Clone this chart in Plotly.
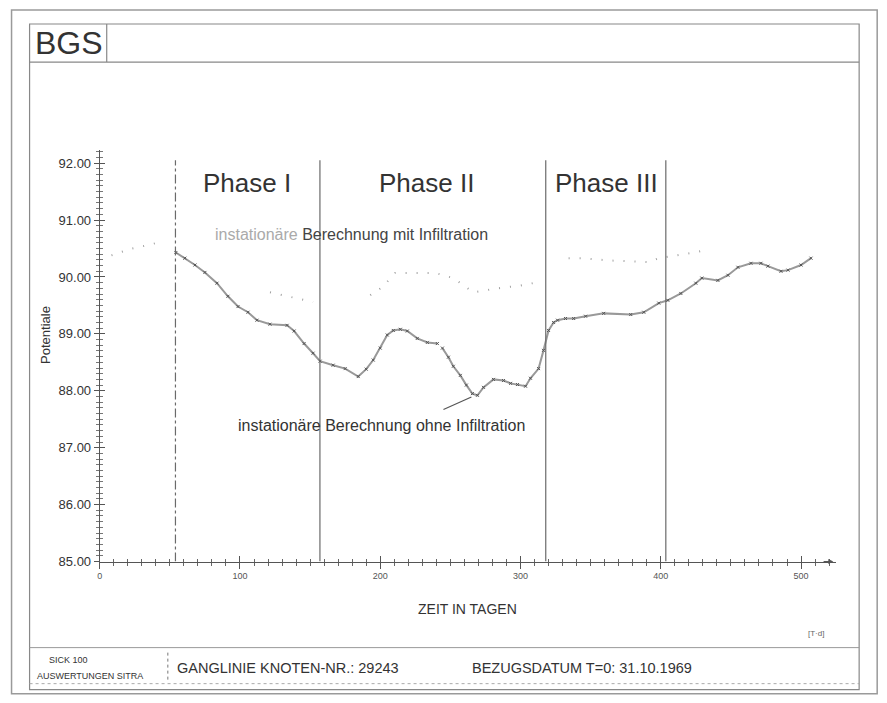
import plotly.graph_objects as go

# ---------------- data ----------------
days_ohne = [54.3, 60.7, 67.9, 75.0, 83.6, 91.4, 98.6, 105.7, 112.1, 121.4, 133.6, 138.6,
             145.7, 152.1, 157.1, 166.4, 175.0, 184.3, 190.0, 195.0, 200.0, 205.0, 209.3,
             214.3, 219.3, 226.4, 233.6, 240.7, None, 244.3, 248.6, 252.1, 257.1, 261.4,
             265.7, 269.3, 273.6, 280.7, 287.9, 292.9, 297.9, 303.6, 307.1, 312.9, 316.4,
             320.0, 323.6, 326.4, 332.1, 337.9, 346.4, 359.3, 378.6, 387.9, 398.6, 405.0,
             414.3, 425.0, 429.3, 440.7, 447.9, 455.0, 464.3, 471.4, 476.4, 485.7, 490.7,
             500.0, 507.1]
pot_ohne = [90.43, 90.33, 90.21, 90.08, 89.89, 89.66, 89.48, 89.38, 89.24, 89.17, 89.15, 89.05,
            88.83, 88.66, 88.52, 88.45, 88.39, 88.25, 88.38, 88.54, 88.75, 88.98, 89.06,
            89.08, 89.05, 88.92, 88.85, 88.83, None, 88.75, 88.59, 88.43, 88.27, 88.10,
            87.95, 87.92, 88.06, 88.20, 88.18, 88.13, 88.11, 88.08, 88.22, 88.39, 88.71,
            89.06, 89.20, 89.24, 89.27, 89.27, 89.31, 89.36, 89.34, 89.38, 89.54, 89.59,
            89.71, 89.89, 89.98, 89.94, 90.03, 90.17, 90.24, 90.24, 90.19, 90.10, 90.12,
            90.21, 90.33]

days_mit = [8.4, 21.4, 34.3, 39.3, None,
            121.4, 152.1, None, 192.9, 201.4, 210.7, 239.3, 252.1, 266.4, 283.6, 300.0, 312.9,
            None, 334.3, 342.9, 362.9, 391.4, 398.6, 412.9, 424.3, 431.4]
pot_mit = [90.38, 90.49, 90.56, 90.59, None,
           89.73, 89.56, None, 89.68, 89.82, 90.07, 90.07, 89.98, 89.73, 89.80, 89.85, 89.91,
           None, 90.33, 90.33, 90.29, 90.26, 90.33, 90.38, 90.43, 90.47]

phase_bounds = [54.0, 157.0, 318.0, 403.6]
phase_labels = ["Phase I", "Phase II", "Phase III"]
phase_label_days = [105.0, 233.0, 361.0]

x_ticks = [0, 100, 200, 300, 400, 500]
x_tick_labels = ["0", "100", "200", "300", "400", "500"]
y_ticks = [85, 86, 87, 88, 89, 90, 91, 92]

# ---------------- geometry helpers (paper coords; page body has an 8px margin) ----------------
OFF = 8
W, H = 887 - OFF, 703 - OFF
def px(x):
    xi = (x - 3.5) / 0.9947
    return (xi - OFF) / W
def py(y):
    yi = 10 + (y - 10) / 0.9875
    return 1 - (yi - OFF) / H

FONT = "Liberation Sans, Arial, Helvetica, sans-serif"
TXT = "#333333"

fig = go.Figure()

fig.add_trace(go.Scatter(
    x=days_mit, y=pot_mit, mode="lines",
    line=dict(color="#a0a0a0", width=2, dash="1px,10px"),
    connectgaps=False, hoverinfo="skip", showlegend=False, xaxis="x", yaxis="y"))

fig.add_trace(go.Scatter(
    x=days_ohne, y=pot_ohne, mode="lines+markers",
    line=dict(color="#999999", width=2),
    marker=dict(size=3, color="#555555", symbol="x-thin", line=dict(width=1, color="#555555")),
    connectgaps=False, showlegend=False, xaxis="x", yaxis="y"))

xdom = [px(100), px(835)]
ydom = [py(561), py(150)]
xr = [0, 525]
yr = [85, 92.2286]

common_x = dict(domain=xdom, range=xr, showgrid=False, zeroline=False, showline=True,
                linecolor="#555", linewidth=1, tickmode="array", tickvals=x_ticks,
                tickcolor="#555", ticklen=6, tickwidth=1)
common_y = dict(domain=ydom, range=yr, showgrid=False, zeroline=False, showline=True,
                linecolor="#555", linewidth=1, tickmode="array", tickvals=y_ticks,
                tickcolor="#555", ticklen=5, tickwidth=1)

fig.update_layout(
    width=W, height=H, margin=dict(l=0, r=0, t=0, b=0),
    paper_bgcolor="white", plot_bgcolor="white",
    font=dict(family=FONT, color=TXT),
    xaxis=dict(**common_x, ticks="outside", ticktext=x_tick_labels,
               tickfont=dict(size=9, color="#555"), anchor="y",
               minor=dict(dtick=10, tick0=0, ticklen=3, tickcolor="#666", tickwidth=1, ticks="outside")),
    xaxis2=dict(**common_x, ticks="inside", showticklabels=False, overlaying="x", anchor="y",
                minor=dict(dtick=10, tick0=0, ticklen=3, tickcolor="#666", tickwidth=1, ticks="inside")),
    yaxis=dict(**common_y, ticks="outside", tickformat=".2f",
               tickfont=dict(size=13, color=TXT), anchor="x",
               minor=dict(dtick=0.1, tick0=85, ticklen=3, tickcolor="#777", tickwidth=1, ticks="outside")),
    yaxis2=dict(**common_y, ticks="inside", showticklabels=False, overlaying="y", anchor="x",
                minor=dict(dtick=0.1, tick0=85, ticklen=3, tickcolor="#777", tickwidth=1, ticks="inside")),
)
fig.add_trace(go.Scatter(x=[None], y=[None], xaxis="x2", yaxis="y2", showlegend=False))

shapes = []
# outer and inner frames
shapes.append(dict(type="rect", xref="paper", yref="paper", x0=px(12), x1=px(876), y0=py(693), y1=py(10),
                   line=dict(color="#9a9a9a", width=1.5)))
shapes.append(dict(type="rect", xref="paper", yref="paper", x0=px(30), x1=px(858), y0=py(689), y1=py(24),
                   line=dict(color="#888", width=1.2)))
# header
shapes.append(dict(type="line", xref="paper", yref="paper", x0=px(30), x1=px(858), y0=py(62), y1=py(62),
                   line=dict(color="#888", width=1.2)))
shapes.append(dict(type="line", xref="paper", yref="paper", x0=px(107), x1=px(107), y0=py(24), y1=py(62),
                   line=dict(color="#888", width=1.2)))
# footer
shapes.append(dict(type="line", xref="paper", yref="paper", x0=px(30), x1=px(858), y0=py(647), y1=py(647),
                   line=dict(color="#999", width=1)))
shapes.append(dict(type="line", xref="paper", yref="paper", x0=px(30), x1=px(858), y0=py(683), y1=py(683),
                   line=dict(color="#aaa", width=1, dash="dot")))
shapes.append(dict(type="line", xref="paper", yref="paper", x0=px(168), x1=px(168), y0=py(652), y1=py(682),
                   line=dict(color="#777", width=1, dash="dot")))
# phase boundaries
for i, d in enumerate(phase_bounds):
    shapes.append(dict(type="line", xref="x", yref="y", x0=d, x1=d, y0=85, y1=92.05,
                       line=dict(color="#6a6a6a", width=1.2, dash="dashdot" if i == 0 else "solid")))
fig.update_layout(shapes=shapes)

ann = []
ann.append(dict(text="BGS", xref="paper", yref="paper", x=px(69), y=py(43), showarrow=False,
                font=dict(size=32, color="#333"), xanchor="center", yanchor="middle"))
for lab, d in zip(phase_labels, phase_label_days):
    ann.append(dict(text=lab, xref="x", yref="paper", x=d, y=py(183), showarrow=False,
                    font=dict(size=26, color="#333"), xanchor="center", yanchor="middle"))
ann.append(dict(text="<span style='color:#aaaaaa'>instationäre</span> Berechnung mit Infiltration",
                xref="paper", yref="paper", x=px(213), y=py(234), showarrow=False,
                font=dict(size=16, color="#444"), xanchor="left", yanchor="middle"))
ann.append(dict(text="instationäre Berechnung ohne Infiltration",
                xref="paper", yref="paper", x=px(236), y=py(425), showarrow=False,
                font=dict(size=16, color="#333"), xanchor="left", yanchor="middle"))
# leader line
ann.append(dict(text="", x=265.0, y=87.89, xref="x", yref="y", ax=244.0, ay=87.66,
                axref="x", ayref="y", showarrow=True, arrowhead=0, arrowwidth=1.2, arrowcolor="#555"))
# x-axis arrow
ann.append(dict(text="", x=523, y=85, xref="x", yref="y", ax=515, ay=85,
                axref="x", ayref="y", showarrow=True, arrowhead=2, arrowsize=1, arrowwidth=1, arrowcolor="#555"))
ann.append(dict(text="Potentiale", xref="paper", yref="paper", x=px(46), y=py(335), showarrow=False,
                textangle=-90, font=dict(size=13, color="#333"), xanchor="center", yanchor="middle"))
ann.append(dict(text="ZEIT IN TAGEN", xref="paper", yref="paper", x=px(467), y=py(608), showarrow=False,
                font=dict(size=14, color="#333"), xanchor="center", yanchor="middle"))
ann.append(dict(text="[T·d]", xref="paper", yref="paper", x=px(815), y=py(633), showarrow=False,
                font=dict(size=8, color="#666"), xanchor="center", yanchor="middle"))
ann.append(dict(text="SICK 100", xref="paper", yref="paper", x=px(47), y=py(659), showarrow=False,
                font=dict(size=9, color="#333"), xanchor="left", yanchor="middle"))
ann.append(dict(text="AUSWERTUNGEN SITRA", xref="paper", yref="paper", x=px(35), y=py(675), showarrow=False,
                font=dict(size=9, color="#333"), xanchor="left", yanchor="middle"))
ann.append(dict(text="GANGLINIE KNOTEN-NR.: 29243", xref="paper", yref="paper", x=px(175), y=py(667),
                showarrow=False, font=dict(size=14.5, color="#333"), xanchor="left", yanchor="middle"))
ann.append(dict(text="BEZUGSDATUM T=0: 31.10.1969", xref="paper", yref="paper", x=px(470), y=py(667),
                showarrow=False, font=dict(size=14.5, color="#333"), xanchor="left", yanchor="middle"))
fig.update_layout(annotations=ann)

fig.write_html("out.html")
